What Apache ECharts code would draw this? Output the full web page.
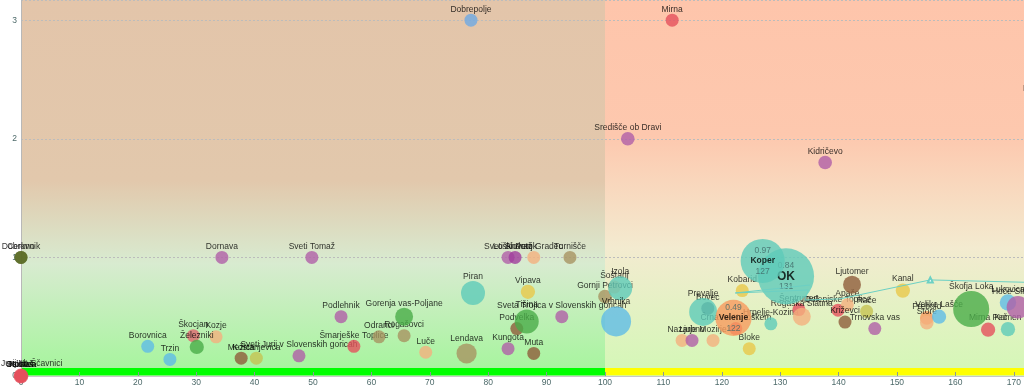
<!DOCTYPE html>
<html><head><meta charset="utf-8">
<script src="https://cdn.jsdelivr.net/npm/echarts@6/dist/echarts.min.js"></script>
<style>html,body{margin:0;padding:0;overflow:hidden;background:#fff}#c{width:1200px;height:389px}</style>
</head><body><div id="c"></div><script>
// ---- data ----
const names = ['Dobrepolje','Mirna','Središče ob Dravi','Kidričevo','Markovci','Cerkno','Dobrovnik','Dornava','Sveti Tomaž','Sveti Andraž','Loški Potok','Slovenj Gradec','Turnišče','Borovnica','Trzin','Škocjan','Železniki','Kozje','Mežica','Kostanjevica','Sveti Jurij v Slovenskih goricah','Podlehnik','Šmarješke Toplice','Odranci','Rogašovci','Gorenja vas-Poljane','Luče','Lendava','Piran','Kungota','Muta','Podvelka','Tišina','Vipava','Sveta Trojica v Slovenskih goricah','Gornji Petrovci','Šoštanj','Izola','Vrhnika','Nazarje','Ljubno','Mozirje','Bloke','Kobarid','Prevalje','Bovec','Velenje','Črna na Koroškem','Koper','OK','Hrpelje-Kozina','Rogaška Slatina','Šentrupert','Dolenjske Toplice','Apače','Ljutomer','Križevci','Rače','Trnovska vas','Kanal','Prebold','Štore','Velike Lašče','Škofja Loka','Mirna Peč','Komen','Lukovica','Hoče-Slivnica','Hodoš','Osilnica','Kostel','Solčava','Sveti Jurij ob Ščavnici'];
const xValues = [77.05,111.5,103.9,137.7,174.5,0,0,34.4,49.8,83.4,84.6,87.8,94.0,21.7,25.5,29.5,30.1,33.4,37.7,40.3,47.6,54.8,57.0,61.3,65.6,65.6,69.3,76.3,77.4,83.4,87.8,84.9,86.6,86.8,92.6,100.0,101.6,102.6,101.9,113.2,114.9,118.5,124.7,123.5,116.8,117.6,122,122.4,127,131,128.4,133.7,133.2,139.9,141.5,142.3,141.1,144.8,146.2,151.0,155.1,155.1,157.2,162.7,165.6,169.0,169.0,170.7,0,0,0,0,0];
const yValues = [3.0,3.0,2.0,1.8,2.33,1,1,1,1,1,1,1,1,0.25,0.14,0.34,0.245,0.33,0.15,0.15,0.17,0.50,0.25,0.33,0.34,0.50,0.20,0.19,0.70,0.23,0.19,0.40,0.46,0.71,0.50,0.67,0.75,0.74,0.46,0.30,0.30,0.30,0.23,0.72,0.54,0.57,0.49,0.40,0.97,0.84,0.44,0.50,0.56,0.555,0.60,0.77,0.455,0.545,0.40,0.72,0.49,0.45,0.50,0.565,0.39,0.395,0.62,0.58,0,0,0,0,0];
const weights = [1,1,1.1,1.1,1,1,1,1,1,1,1,1,1,1,1,1,1.2,1,1,1,1,1,1,1,1,1.9,1,2.4,3.4,1,1,1,3.4,1.2,1,1.1,1,3.4,5.3,1,1,1,1,1,4.6,1,7.7,1,11.5,18.6,1,1.9,1,1,1,1.9,1,1,1,1.2,1.1,1.1,1.2,7.7,1.2,1.2,1.6,3,1,1,1,1,1.3];
const detailNames = ['Koper','OK','Velenje'];
const xTicks = {min:0, max:200, interval:10};
const yTicks = {min:0, max:3.17, interval:1};
const trendX = [135.1,122.3,134.8,134.2,140.2,155.7,172.0];
const trendY = [0.767,0.70,0.725,0.64,0.65,0.81,0.79];

// ---- style ----
const C = {blue:'#6ea9e4',red:'#e5505c',purple:'#b05fa8',olive:'#5b6b25',lblue:'#5fbbe6',pink:'#e06870',green:'#4aad48',peach:'#f4b07e',brown:'#8f5d3b',oy:'#c5c352',khaki:'#a89462',teal:'#5ecab9',yellow:'#e9c84a',orange:'#f79a5e',gray:'#4f6464',mag:'#a03c9c'};
const colorKeys = ['blue','red','purple','purple','purple','olive','olive','purple','purple','purple','mag','peach','khaki','lblue','lblue','pink','green','peach','brown','oy','purple','purple','red','khaki','khaki','green','peach','khaki','teal','purple','brown','brown','green','yellow','purple','khaki','peach','teal','lblue','peach','purple','peach','yellow','yellow','teal','gray','orange','red','teal','teal','teal','peach','red','red','peach','brown','brown','oy','purple','yellow','orange','peach','lblue','green','red','teal','lblue','purple','red','red','red','red','red'];
const FONT = 'Liberation Sans, Arial, sans-serif';
const drawLast = ['Koper'];

const order = names.map((n,i)=>i).sort((a,b)=> (drawLast.includes(names[a])-drawLast.includes(names[b])) || weights[a]-weights[b] || a-b);
const series = [];
series.push({
  type:'scatter', data:[], silent:true, z:1,
  markArea:{ silent:true, z:1, label:{show:false},
    data:[
      [{xAxis:0,yAxis:0,itemStyle:{opacity:1,color:{type:'linear',x:0,y:0,x2:0,y2:1,colorStops:[{offset:0,color:'#e3c5aa'},{offset:0.48,color:'#e2c8ac'},{offset:0.70,color:'#d8ebd0'},{offset:1,color:'#a4f59b'}]}}},{xAxis:100,yAxis:yTicks.max}],
      [{xAxis:100,yAxis:0,itemStyle:{opacity:1,color:{type:'linear',x:0,y:0,x2:0,y2:1,colorStops:[{offset:0,color:'#fec5ab'},{offset:0.36,color:'#fdc8ae'},{offset:0.66,color:'#f3ebd0'},{offset:1,color:'#d3f8b6'}]}}},{xAxis:xTicks.max,yAxis:yTicks.max}],
      [{xAxis:0,yAxis:0.006,itemStyle:{opacity:1,color:'#00ff00'}},{xAxis:100,yAxis:0.068}],
      [{xAxis:100,yAxis:0.006,itemStyle:{opacity:1,color:'#ffff00'}},{xAxis:xTicks.max,yAxis:0.068}]
    ]}
});
order.forEach((i,rank)=>{
  const size = 13*Math.sqrt(weights[i]);
  const isDetail = detailNames.includes(names[i]);
  const big = names[i]==='OK';
  series.push({
    type:'scatter', name:names[i], z: 2 + rank*0.01, animation:false,
    data:[{name:names[i], value:[xValues[i], yValues[i]]}],
    symbolSize:size,
    itemStyle:{color:C[colorKeys[i]], opacity:0.8},
    emphasis:{disabled:true},
    label: isDetail ? {
      show:true, position:'inside',
      formatter: p => '{v|'+yValues[i].toFixed(2)+'}\n{'+(big?'b':'n')+'|'+names[i]+'}\n{v|'+xValues[i]+'}',
      rich:{
        v:{fontSize:8.5,color:'#3f6666',fontFamily:FONT,lineHeight:10.5},
        n:{fontSize:8.5,color:'#000',fontWeight:'bold',fontFamily:FONT,lineHeight:10.5},
        b:{fontSize:12,color:'#000',fontWeight:'bold',fontFamily:FONT,lineHeight:11}
      }
    } : {show:true, position:'top', distance:0, formatter:'{b}', fontSize:8.5, color:'#000', fontFamily:FONT}
  });
});
series.push({
  type:'line', z:5, animation:false, silent:true,
  data: trendX.map((x,k)=> k===5 ? {value:[x,trendY[k]], symbol:'emptyTriangle', symbolSize:5} : {value:[x,trendY[k]], symbol:'none'}),
  lineStyle:{color:'#6cd0c4', width:1}, itemStyle:{color:'#6cd0c4'}
});

const chart = echarts.init(document.getElementById('c'), null, {renderer:'canvas'});
chart.setOption({
  animation:false,
  grid:{left:21, right:1200-21-5.84*xTicks.max, top:0, bottom:13, containLabel:false},
  xAxis:{type:'value', min:xTicks.min, max:xTicks.max, interval:xTicks.interval, z:1.5,
    axisLine:{show:true, lineStyle:{color:'#c8c8c8'}},
    axisTick:{show:true, inside:true, length:4, lineStyle:{color:'#8a9a9a'}},
    axisLabel:{color:'#4d6a6a', fontSize:8.5, margin:2, fontFamily:FONT},
    splitLine:{show:false}},
  yAxis:{type:'value', min:yTicks.min, max:yTicks.max, interval:yTicks.interval, z:1.5,
    axisLine:{show:true, lineStyle:{color:'#b8b8b8'}},
    axisTick:{show:false},
    axisLabel:{color:'#4d6a6a', fontSize:8.5, margin:4, fontFamily:FONT, formatter:v=> Number.isInteger(v)? String(v):''},
    splitLine:{show:true, lineStyle:{color:'#bcbcbc', type:[2,2], width:1}}},
  series
});
</script></body></html>
